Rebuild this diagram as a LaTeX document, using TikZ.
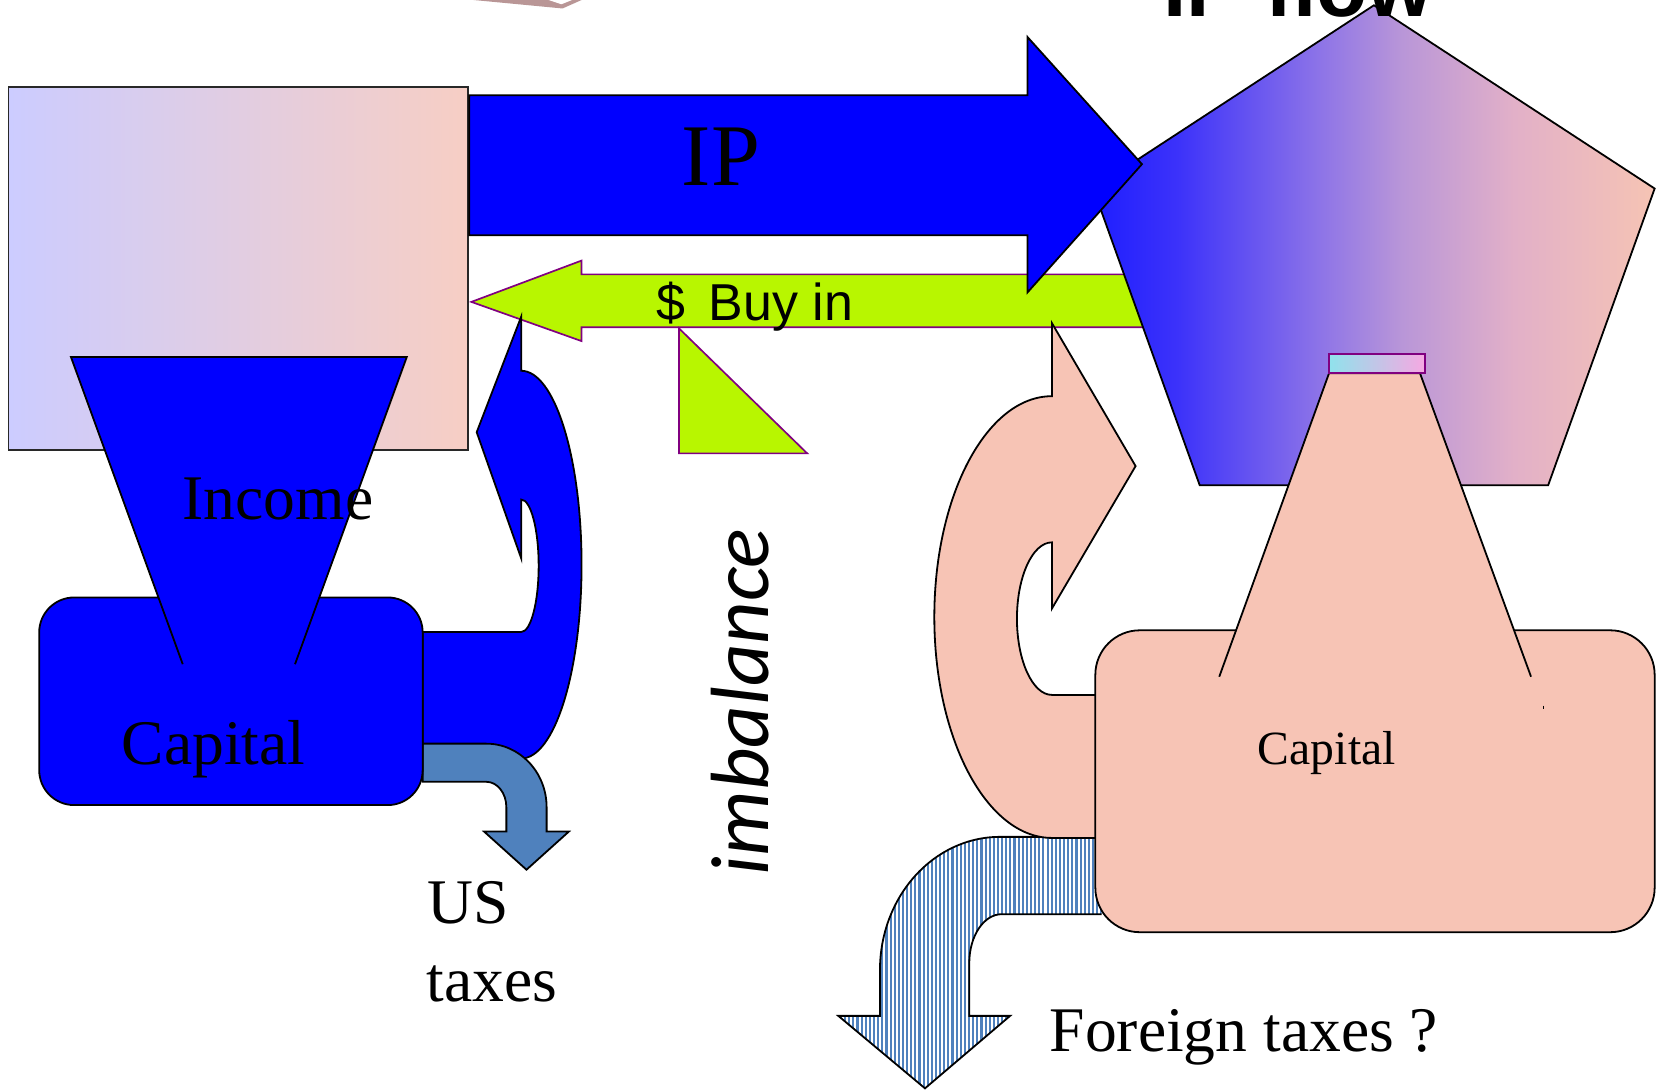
\documentclass[tikz,border=0pt]{standalone}
\usepackage{fontspec}
\setmainfont{Liberation Serif}
\newfontfamily\arialf{Liberation Sans}
\newfontfamily\carl{Carlito}
\definecolor{pblue}{RGB}{0,0,255}
\definecolor{lime}{RGB}{184,246,0}
\definecolor{purp}{RGB}{128,0,128}
\definecolor{steel}{RGB}{79,129,189}
\definecolor{peach}{RGB}{247,196,181}
\definecolor{lrL}{RGB}{204,204,255}
\definecolor{lrR}{RGB}{247,206,196}
\definecolor{srL}{RGB}{144,226,236}
\definecolor{srR}{RGB}{246,168,226}
\definecolor{pA}{RGB}{30,30,255}
\definecolor{pB}{RGB}{60,50,250}
\definecolor{pC}{RGB}{140,115,232}
\definecolor{pD}{RGB}{185,150,216}
\definecolor{pE}{RGB}{226,176,200}
\definecolor{pF}{RGB}{246,196,180}
\definecolor{artc}{RGB}{185,150,150}
\pgfdeclarehorizontalshading{pentshade}{100bp}{color(0bp)=(pA); color(25bp)=(pA); color(32.5bp)=(pB); color(45bp)=(pC); color(52.5bp)=(pD); color(62.5bp)=(pE); color(75bp)=(pF); color(100bp)=(pF)}
\begin{document}
\begin{tikzpicture}[x=1pt,y=-1pt,
  outl/.style={draw=black, line width=1.7pt, line join=miter},
  pout/.style={draw=purp, line width=1.6pt},
  txt/.style={inner sep=0pt, outer sep=0pt},
  serif60/.style={txt, font=\fontsize{60}{72}\selectfont}]
\useasboundingbox (0,0) rectangle (1568,1030);
\clip (0,0) rectangle (1568,1030);

% fragment at the top
\fill[artc] (447,0) -- (531,8) -- (549,0) -- cycle;
\fill[white] (518,0) -- (530,4) -- (540,0) -- cycle;

% left gradient rectangle
\draw[outl, draw={rgb,255:red,40;green,40;blue,40}, left color=lrL, right color=lrR] (8,82) rectangle (442,425);

% green buy-in arrow and triangle
\draw[pout, fill=lime] (445,285) -- (549,246) -- (549,259) -- (1088,259) -- (1088,309) -- (549,309) -- (549,322) -- cycle;
\draw[pout, fill=lime] (641,310) -- (762,428) -- (641,428) -- cycle;

% pentagon
\path[outl, shading=pentshade] (1297,5) -- (1562,178) -- (1461.5,458) -- (1132.5,458) -- (1032,178) -- cycle;

% IP arrow
\draw[outl, fill=pblue] (443,90) -- (970,90) -- (970,35) -- (1078,155) -- (970,276) -- (970,222) -- (443,222) -- cycle;
\node[txt, font=\fontsize{83}{90}\selectfont, anchor=base] (ip) at (680.5,175) {IP};

% blue curved arrow
\draw[outl, fill=pblue] (399,596.6) -- (492,596.6)
  .. controls (501.1,596.6) and (508.5,568.6) .. (508.5,534.1)
  .. controls (508.5,499.6) and (501.1,471.6) .. (492,471.6)
  -- (492,527) -- (450,408) -- (492,299) -- (492,350)
  .. controls (523.5,350) and (549,431.9) .. (549,533)
  .. controls (549,634.1) and (523.5,716) .. (492,716)
  -- (399,716) -- cycle;

% US tax arrow
\draw[outl, fill=steel] (399,702) -- (459,702)
  .. controls (490.5,702) and (516,728.9) .. (516,762)
  -- (516,785) -- (537,785) -- (497,821) -- (457,785) -- (478,785) -- (478,762)
  .. controls (478,748.7) and (469.5,738) .. (459,738)
  -- (399,738) -- cycle;

% left capital box and income trapezoid
\draw[outl, fill=pblue, rounded corners=33pt] (37,564) rectangle (399,760);
\fill[pblue] (67,337) -- (384,337) -- (278.5,627) -- (172.5,627) -- cycle;
\draw[outl] (172.5,627) -- (67,337) -- (384,337) -- (278.5,627);
\node[serif60, anchor=base] (inc) at (262.5,490) {Income};
\node[serif60, anchor=base] (capL) at (201.5,722) {Capital};

% striped foreign tax arrow
\begin{scope}
\clip (1040,790) -- (944,790)
  .. controls (881.4,790) and (830.7,846.3) .. (830.7,915.7)
  -- (830.7,959) -- (791.4,959) -- (873.2,1027.4) -- (953.5,959) -- (915,959) -- (915,909)
  .. controls (915,883.6) and (928.7,863) .. (945.6,863)
  -- (1040,863) -- cycle;
\fill[white] (780,780) rectangle (1045,1030);
\foreach \xx in {790,793.9,...,1045} \draw[steel, line width=2pt] (\xx,780) -- (\xx,1030);
\end{scope}
\draw[outl] (1040,790) -- (944,790)
  .. controls (881.4,790) and (830.7,846.3) .. (830.7,915.7)
  -- (830.7,959) -- (791.4,959) -- (873.2,1027.4) -- (953.5,959) -- (915,959) -- (915,909)
  .. controls (915,883.6) and (928.7,863) .. (945.6,863)
  -- (1040,863);

% peach curved arrow
\draw[outl, fill=peach] (1040,656) -- (993,656)
  .. controls (974.8,656) and (960,623.8) .. (960,584)
  .. controls (960,544.2) and (974.8,512) .. (993,512)
  -- (993,574.5) -- (1072,440) -- (993,305) -- (993,374)
  .. controls (931.7,374) and (882,467.3) .. (882,582.5)
  .. controls (882,697.7) and (931.7,791) .. (993,791)
  -- (1040,791) -- cycle;

% right capital box and trapezoid
\draw[outl, fill=peach, rounded corners=42pt] (1034,595) rectangle (1562,880);
\fill[peach] (1254.6,352.4) -- (1340.5,352.4) -- (1445.3,638.8) -- (1151,638.8) -- cycle;
\draw[outl] (1151,638.8) -- (1254.6,352.4) -- (1340.5,352.4) -- (1445.3,638.8);
\draw[pout, left color=srL, right color=srR] (1254.6,334.5) rectangle (1345.2,352.4);
\draw[line width=0.8pt] (1457,666) -- (1457,669);
\node[txt, font=\fontsize{45}{54}\selectfont, anchor=base] (capR) at (1252.5,722) {Capital};

% texts
\node[txt, font=\arialf\fontsize{49}{58}\selectfont, anchor=base west] (buy) at (620,303) {\$\hspace{22pt}Buy in};
\node[txt, font=\carl\itshape\fontsize{78}{90}\selectfont, rotate=90, anchor=base] (imb) at (725,662.5) {imbalance};
\node[serif60, anchor=base west] (us) at (404,872) {US};
\node[serif60, anchor=base west] (tax) at (403,945) {taxes};
\node[serif60, anchor=base west] (ft) at (991,993) {Foreign taxes ?};
\node[txt, font=\arialf\bfseries\fontsize{79}{90}\selectfont, anchor=base west] (flow) at (1098,15.7) {IP flow};
\end{tikzpicture}
\end{document}
